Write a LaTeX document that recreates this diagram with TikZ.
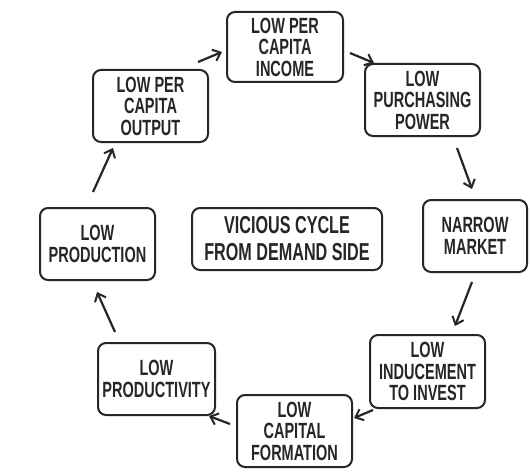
\documentclass[tikz,border=0pt]{standalone}
\usepackage{fontspec}
\setmainfont{Liberation Sans}[FakeStretch=0.66]
\usetikzlibrary{arrows.meta}
\begin{document}
\begin{tikzpicture}[x=1pt,y=-1pt,
  box/.style={draw=black!85, line width=2pt, rounded corners=8pt, align=center,
    inner sep=0pt, minimum width=115pt, minimum height=72pt,
    font=\bfseries\fontsize{22}{21.5}\selectfont, text=black!85},
  arr/.style={-{Straight Barb[length=7pt,width=12pt,line width=2pt]}, line width=2.2pt, draw=black!85}]
\useasboundingbox[fill=white] (0,0) rectangle (529,468);

\node[box, minimum width=116pt, minimum height=70pt] (income) at (285,47) {LOW PER\\CAPITA\\INCOME};
\node[box] (output) at (150.5,106) {LOW PER\\CAPITA\\OUTPUT};
\node[box] (purch) at (422.5,100) {LOW\\PURCHASING\\POWER};
\node[box, minimum width=104pt] (market) at (475,236) {NARROW\\MARKET};
\node[box] (prod) at (97.5,244) {LOW\\PRODUCTION};
\node[box, minimum width=190pt, minimum height=62pt, font=\bfseries\fontsize{24.5}{27}\selectfont] (vicious) at (287,239) {VICIOUS CYCLE\\FROM DEMAND SIDE};
\node[box, minimum width=117pt] (prodty) at (156.5,379) {LOW\\PRODUCTIVITY};
\node[box] (capital) at (294.5,431) {LOW\\CAPITAL\\FORMATION};
\node[box, minimum height=73pt] (induce) at (427.5,371.5) {LOW\\INDUCEMENT\\TO INVEST};

\coordinate (a1s) at (198,62);  \coordinate (a1e) at (222,52);
\coordinate (a2s) at (350,53);  \coordinate (a2e) at (374,63);
\coordinate (a3s) at (457,148); \coordinate (a3e) at (472,189);
\coordinate (a4s) at (472,282); \coordinate (a4e) at (455,326);
\coordinate (a5s) at (373,410); \coordinate (a5e) at (354,418);
\coordinate (a6s) at (230,424); \coordinate (a6e) at (209,416);
\coordinate (a7s) at (115,332); \coordinate (a7e) at (97,292);
\coordinate (a8s) at (93,192);  \coordinate (a8e) at (113,148);

\draw[arr] (a1s) -- (a1e);
\draw[arr] (a2s) -- (a2e);
\draw[arr] (a3s) -- (a3e);
\draw[arr] (a4s) -- (a4e);
\draw[arr] (a5s) -- (a5e);
\draw[arr] (a6s) -- (a6e);
\draw[arr] (a7s) -- (a7e);
\draw[arr] (a8s) -- (a8e);
\end{tikzpicture}
\end{document}
